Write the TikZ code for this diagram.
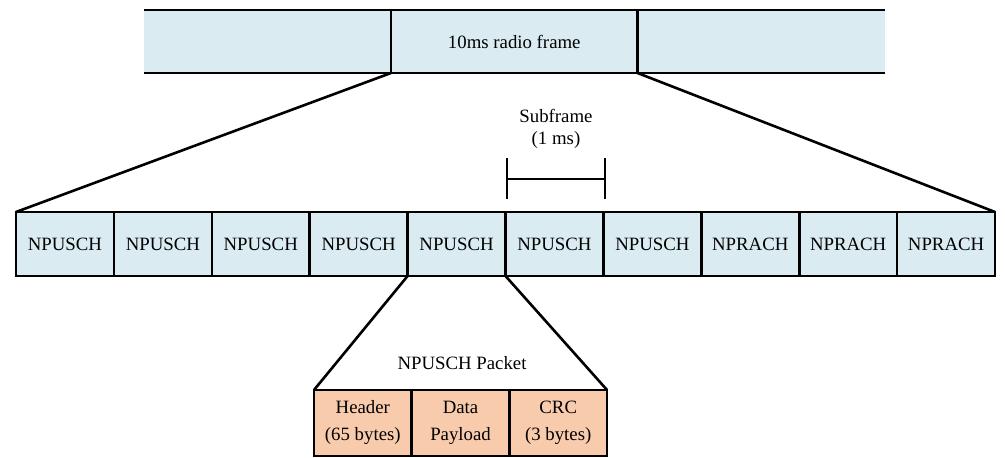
\documentclass[tikz,border=0pt]{standalone}
\usepackage{fontspec}
\setmainfont{Liberation Serif}
\definecolor{lblue}{HTML}{DAEBF2}
\definecolor{lorange}{HTML}{F8CBAD}
\begin{document}
\begin{tikzpicture}[x=0.5pt,y=-0.5pt,
  font=\fontsize{9.4}{11}\selectfont,
  every node/.style={inner sep=0pt,outer sep=0pt},
  seg/.style={fill=lblue,minimum width=123.25pt,minimum height=31.5pt,anchor=north west},
  cell/.style={draw,line width=1.3pt,fill=lblue,minimum width=48.95pt,minimum height=32pt,anchor=north west},
  pcell/.style={draw,line width=1.3pt,fill=lorange,minimum width=48.83pt,minimum height=33pt,anchor=north west,align=center,font=\fontsize{9.4}{13.5}\selectfont},
  conn/.style={line width=1.3pt},
]
\useasboundingbox (0,0) rectangle (1005,458);
% top frame
\node[seg] (f1) at (144,10) {};
\node[seg] (f2) at (391,10) {10ms radio frame};
\node[seg,minimum width=124pt] (f3) at (637,10) {};
\draw[conn] (f1.north west) -- (f3.north east);
\draw[conn] (f1.south west) -- (f3.south east);
\draw[conn] (f2.north west) -- (f2.south west);
\draw[conn] (f2.north east) -- (f2.south east);
% subframes
\foreach \i/\t in {1/NPUSCH,2/NPUSCH,3/NPUSCH,4/NPUSCH,5/NPUSCH,6/NPUSCH,7/NPUSCH,8/NPRACH,9/NPRACH,10/NPRACH}{
  \node[cell] (c\i) at ({16+97.9*(\i-1)},212) {\t};
}
\draw[conn] (f2.south west) -- (c1.north west);
\draw[conn] (f2.south east) -- (c10.north east);
% subframe bracket
\node[align=center,font=\fontsize{9.4}{11}\selectfont] (sl) at (556,129) {Subframe\\(1 ms)};
\coordinate (bl) at (507,179);
\coordinate (br) at (605,179);
\coordinate (blt) at (507,158);
\coordinate (blb) at (507,199);
\coordinate (brt) at (605,158);
\coordinate (brb) at (605,199);
\draw[conn] (bl) -- (br);
\draw[conn] (blt) -- (blb);
\draw[conn] (brt) -- (brb);
% packet
\node (pl) at (462,363) {NPUSCH Packet};
\node[pcell] (p1) at (314,390) {Header\\(65 bytes)};
\node[pcell] (p2) at (411.7,390) {Data\\Payload};
\node[pcell] (p3) at (509.4,390) {CRC\\(3 bytes)};
\draw[conn] (c5.south west) -- (p1.north west);
\draw[conn] (c6.south west) -- (p3.north east);
\end{tikzpicture}
\end{document}
